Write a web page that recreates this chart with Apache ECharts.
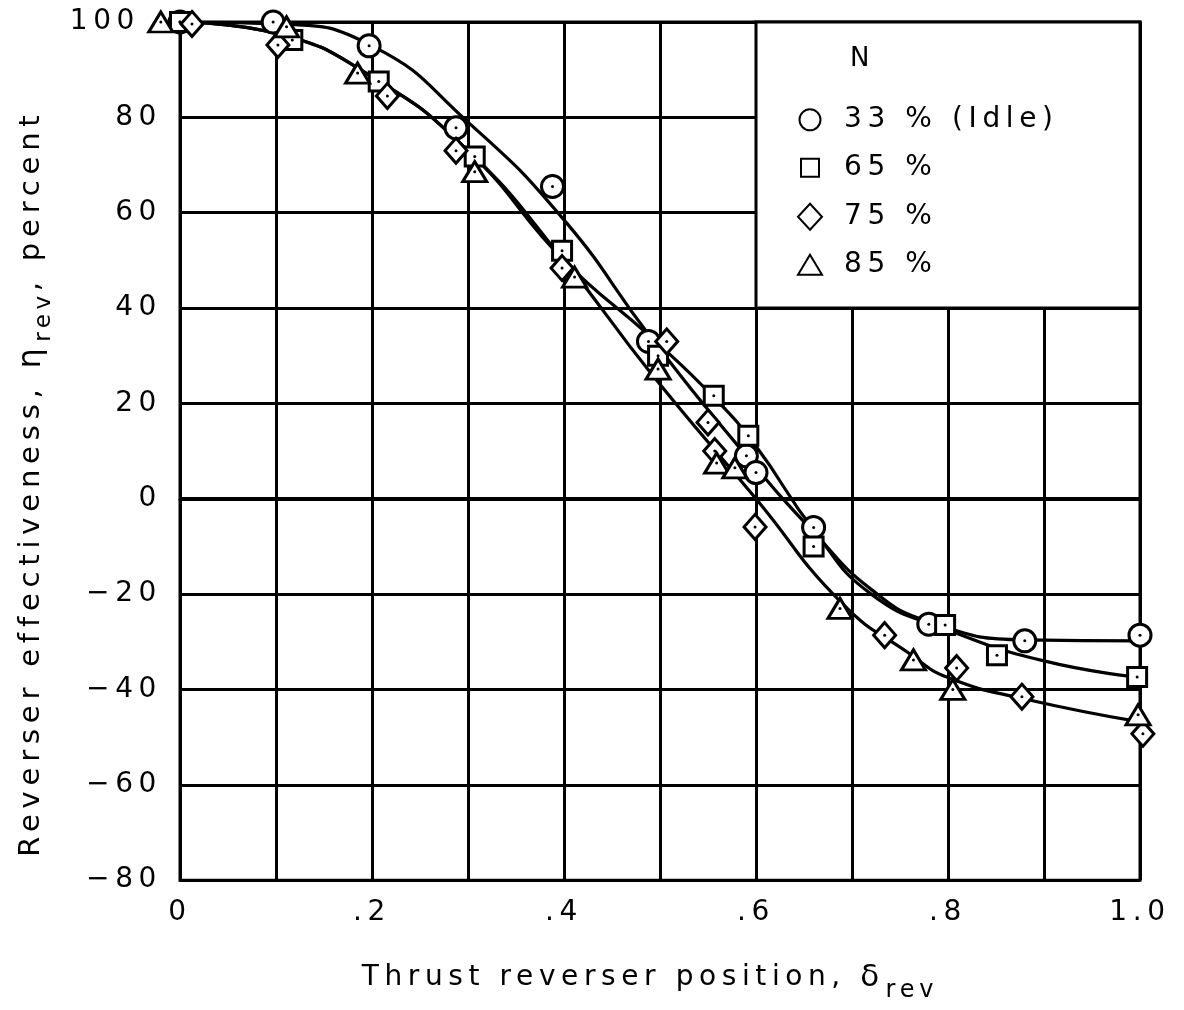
<!DOCTYPE html>
<html>
<head>
<meta charset="utf-8">
<script src="https://cdn.jsdelivr.net/npm/echarts@6/dist/echarts.min.js"></script>
<style>html,body{margin:0;padding:0;background:#fff;}#c{width:1184px;height:1010px;}</style>
</head>
<body>
<div id="c"></div>
<script>
// ---- axis settings / tick labels ----
const xMin = 0, xMax = 1.0, xStep = 0.1;
const yMin = -80, yMax = 100, yStep = 20;
const xTickLabels = ['0', '.2', '.4', '.6', '.8', '1.0'];
const yTickLabels = ['\u221280', '\u221260', '\u221240', '\u221220', '0', '20', '40', '60', '80', '100'];

// ---- legend names ----
const seriesNames = ['33 % (Idle)', '65 %', '75 %', '85 %'];

// ---- measured points ----
const circX = [0, 0.097, 0.197, 0.2875, 0.388, 0.488, 0.59, 0.6, 0.66, 0.78, 0.88, 1.0];
const circY = [100, 100, 95, 77.8, 65.5, 33, 9, 5.5, -6, -26.3, -29.8, -28.6];

const sqX = [0, 0.117, 0.207, 0.307, 0.398, 0.498, 0.556, 0.592, 0.66, 0.797, 0.851, 0.997];
const sqY = [100, 96.2, 87.5, 71.8, 52, 30, 21.6, 13.2, -10, -26.5, -32.8, -37.4];

const diaX = [0.0125, 0.102, 0.216, 0.2875, 0.398, 0.507, 0.55, 0.557, 0.599, 0.734, 0.809, 0.877, 1.003];
const diaY = [99.6, 95.2, 84.5, 73, 48.4, 33, 16, 10, -5.9, -28.6, -35.5, -41.5, -49.3];

const triX = [-0.02, 0.111, 0.185, 0.307, 0.411, 0.498, 0.559, 0.578, 0.6875, 0.764, 0.805, 0.998];
const triY = [100, 99, 89.3, 68.6, 46.5, 27.2, 7.5, 6.5, -23, -33.8, -40, -45.3];

// ---- faired curves ----
const curveAX = [0, 0.1, 0.2, 0.3, 0.4, 0.49, 0.59, 0.66, 0.72, 0.78, 0.88, 1.0];
const curveAY = [100, 99.6, 95, 79, 58.5, 34, 9, -7, -19, -25.8, -29.6, -29.8];

const curveBX = [0, 0.1, 0.2, 0.3, 0.4, 0.49, 0.555, 0.6, 0.66, 0.72, 0.8, 0.9, 1.0];
const curveBY = [100, 97.6, 88.5, 73, 50, 34, 21.5, 11, -6.5, -20, -27.5, -34, -37.5];

const curveCX = [0, 0.1, 0.2, 0.3, 0.4, 0.49, 0.6, 0.69, 0.76, 0.8, 0.88, 1.0];
const curveCY = [100, 97.6, 88.5, 73, 50, 26.5, 0, -22, -32.5, -37.5, -42, -46.8];

// ---- legend box (data extent) ----
const legendBoxX = [0.6, 1.0];
const legendBoxY = [40, 100];

// ---- letter spacing for all canvas text (the original lettering is widely spaced) ----
const LETTER_SPACING_EM = 0.2;
(function () {
  const proto = CanvasRenderingContext2D.prototype;
  if (!('letterSpacing' in proto)) return;
  const px = f => { const m = /(\d+(?:\.\d+)?)px/.exec(f || ''); return m ? parseFloat(m[1]) : 12; };
  const oFill = proto.fillText, oStroke = proto.strokeText, oMeasure = proto.measureText;
  const setLS = ctx => { ctx.letterSpacing = (px(ctx.font) * LETTER_SPACING_EM).toFixed(2) + 'px'; };
  proto.fillText = function () { setLS(this); return oFill.apply(this, arguments); };
  proto.strokeText = function () { setLS(this); return oStroke.apply(this, arguments); };
  proto.measureText = function () { setLS(this); return oMeasure.apply(this, arguments); };
})();

const zip = (xs, ys) => xs.map((x, i) => [x, ys[i]]);
const FONT = 'DejaVu Sans';

const markerStyle = { color: '#fff', borderColor: '#000', borderWidth: 3, opacity: 1 };

const lineSeries = (name, xs, ys, extra) => Object.assign({
  name: name, type: 'line', data: zip(xs, ys), smooth: 0.5,
  showSymbol: false, silent: true, z: 2,
  lineStyle: { color: '#000', width: 3.2 }
}, extra || {});

const scatterSeries = (name, xs, ys, symbol, size) => ({
  name: name, type: 'scatter', data: zip(xs, ys), symbol: symbol, symbolSize: size,
  itemStyle: markerStyle, z: 4, clip: false
});

const allPts = [].concat(zip(circX, circY), zip(sqX, sqY), zip(diaX, diaY), zip(triX, triY));

// legend rows: icon sizes per marker kind
const legendTops = [98, 146, 195, 243];
const legendIconW = [21, 18, 24, 24];
const legendIconH = [21, 18, 26, 20];
const legends = seriesNames.map((n, i) => ({
  data: [n], orient: 'vertical', left: 804 - legendIconW[i] / 2, top: legendTops[i],
  itemWidth: legendIconW[i], itemHeight: legendIconH[i],
  textStyle: { fontFamily: FONT, fontSize: 28, color: '#000', padding: [0, 0, 0, 29 - legendIconW[i] / 2] },
  selectedMode: false
}));

const chart = echarts.init(document.getElementById('c'), null, { renderer: 'canvas' });
chart.setOption({
  backgroundColor: '#fff',
  animation: false,
  grid: { left: 180, right: 44, top: 22, bottom: 127, show: true, borderColor: '#000', borderWidth: 3, containLabel: false },
  xAxis: {
    type: 'value', min: xMin, max: xMax, interval: xStep,
    name: 'Thrust reverser position, {g|\u03B4}{s|rev}',
    nameLocation: 'middle', nameGap: 70,
    nameTextStyle: {
      fontFamily: FONT, fontSize: 28, color: '#000', padding: [0, 20, 0, 0],
      rich: { g: { fontFamily: FONT, fontSize: 31, color: '#000' }, s: { fontFamily: FONT, fontSize: 24, color: '#000', padding: [26, 0, 0, 0] } }
    },
    axisLine: { show: true, lineStyle: { color: '#000', width: 3 } },
    axisTick: { show: false },
    splitLine: { show: true, lineStyle: { color: '#000', width: 3 } },
    axisLabel: {
      margin: 16, fontFamily: FONT, fontSize: 28, color: '#000',
      formatter: v => { const k = Math.round(v / xStep); return k % 2 === 0 ? xTickLabels[k / 2] : ''; }
    }
  },
  yAxis: {
    type: 'value', min: yMin, max: yMax, interval: yStep,
    name: 'Reverser effectiveness, {g|\u03B7}{s|rev}, percent',
    nameLocation: 'middle', nameGap: 122, nameRotate: 90,
    nameTextStyle: {
      fontFamily: FONT, fontSize: 29, color: '#000', padding: [0, 64, 0, 0],
      rich: { g: { fontFamily: FONT, fontSize: 32, color: '#000' }, s: { fontFamily: FONT, fontSize: 23, color: '#000', padding: [26, 0, 0, 0] } }
    },
    axisLine: { show: true, lineStyle: { color: '#000', width: 3 } },
    axisTick: { show: false },
    splitLine: { show: true, lineStyle: { color: '#000', width: 3 } },
    axisLabel: {
      margin: 18, fontFamily: FONT, fontSize: 28, color: '#000',
      formatter: v => {
        const k = Math.round((v - yMin) / yStep);
        const t = yTickLabels[k];
        return v === yMax ? '{top|' + t + '}' : t;
      },
      rich: { top: { fontFamily: FONT, fontSize: 28, color: '#000', padding: [0, 22, 0, 0] } }
    }
  },
  legend: legends,
  graphic: [{
    type: 'text', left: 850, top: 44, z: 100,
    style: { text: 'N', font: '26px "DejaVu Sans"', fill: '#000' }
  }],
  series: [
    lineSeries('curveA', curveAX, curveAY, {
      markArea: {
        silent: true,
        itemStyle: { color: '#fff', borderColor: '#000', borderWidth: 3 },
        data: [[{ coord: [legendBoxX[0], legendBoxY[1]] }, { coord: [legendBoxX[1], legendBoxY[0]] }]]
      },
      markLine: {
        silent: true, symbol: 'none', label: { show: false },
        lineStyle: { color: '#000', width: 4, type: 'solid' },
        data: [{ yAxis: 0 }]
      }
    }),
    lineSeries('curveB', curveBX, curveBY),
    lineSeries('curveC', curveCX, curveCY),
    scatterSeries(seriesNames[0], circX, circY, 'circle', 22),
    scatterSeries(seriesNames[1], sqX, sqY, 'rect', 19),
    scatterSeries(seriesNames[2], diaX, diaY, 'diamond', [22, 25]),
    scatterSeries(seriesNames[3], triX, triY, 'triangle', [24, 20]),
    { name: 'centers', type: 'scatter', data: allPts, symbol: 'circle', symbolSize: 3,
      itemStyle: { color: '#000', opacity: 1 }, z: 5, silent: true, clip: false }
  ]
});
</script>
</body>
</html>
